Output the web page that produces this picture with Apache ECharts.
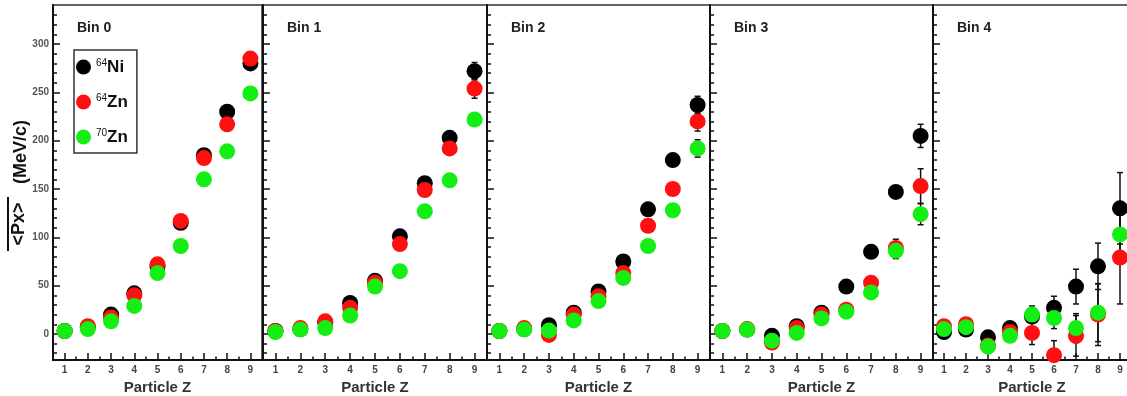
<!DOCTYPE html>
<html>
<head>
<meta charset="utf-8">
<script src="https://cdn.jsdelivr.net/npm/echarts@6/dist/echarts.min.js"></script>
<style>
  html, body { margin: 0; padding: 0; background: #fff; }
  #main { width: 1127px; height: 396px; }
</style>
</head>
<body>
<div id="main"></div>
<script>
// particle charge Z on the x axis
const zValues = [1, 2, 3, 4, 5, 6, 7, 8, 9];
const binLabels = ['Bin 0', 'Bin 1', 'Bin 2', 'Bin 3', 'Bin 4'];
const speciesNames = ['64Ni', '64Zn', '70Zn'];

// mean Px per bin (MeV/c), one row per bin
const niPx = [
  [3, 7, 20, 42, 70, 115, 185, 230, 280],
  [3, 5, 12, 32, 55, 101, 156, 203, 272],
  [3, 5, 9, 22, 44, 75, 129, 180, 237],
  [3, 4.5, -2, 8, 22, 49, 85, 147, 205],
  [2, 4.5, -3.5, 6, 18, 27, 49, 70, 130]
];
const zn64Px = [
  [3, 8, 17, 40, 72, 117, 182, 217, 285],
  [3, 6, 13, 27, 53, 93, 149, 192, 254],
  [3, 6, -1, 20, 39, 63, 112, 150, 220],
  [3, 5, -9, 6, 20, 25, 53, 89, 153],
  [8, 10, -12, 2, 1, -22, -2, 20, 79]
];
const zn70Px = [
  [3, 5, 13, 29, 63, 91, 160, 189, 249],
  [2, 4.5, 6, 19, 49, 65, 127, 159, 222],
  [3, 4.5, 3.5, 14, 34, 58, 91, 128, 192],
  [3, 4.5, -7, 1, 16, 23, 43, 86, 124],
  [5, 7, -13, -2, 20, 16.5, 6, 22, 103]
];

// errors
const niErr = [
  [1, 1, 1, 2, 2, 3, 3, 3, 4],
  [1, 1, 1, 2, 2, 3, 3, 4, 9],
  [1, 1, 1, 2, 2, 3, 3, 4, 9],
  [1, 1, 2, 2, 3, 3, 4, 5, 12],
  [2, 2, 3, 4, 6, 12, 18, 24, 37]
];
const zn64Err = [
  [1, 1, 1, 2, 2, 3, 3, 3, 4],
  [1, 1, 1, 2, 2, 3, 3, 4, 10],
  [1, 1, 1, 2, 2, 3, 3, 4, 10],
  [1, 1, 2, 2, 3, 3, 4, 9, 18],
  [3, 3, 4, 5, 12, 15, 21, 32, 48]
];
const zn70Err = [
  [1, 1, 1, 2, 2, 3, 3, 3, 4],
  [1, 1, 1, 2, 2, 3, 3, 4, 6],
  [1, 1, 1, 2, 2, 3, 3, 4, 9],
  [1, 1, 2, 2, 3, 3, 4, 8, 11],
  [2, 2, 4, 5, 9, 11, 15, 30, 20]
];

// tick values
const yMajorTicks = [0, 50, 100, 150, 200, 250, 300];
const yMinorTicks = [-20, -10, 10, 20, 30, 40, 60, 70, 80, 90, 110, 120, 130, 140, 160, 170, 180, 190,
  210, 220, 230, 240, 260, 270, 280, 290, 310, 320, 330];
const xMajorTicks = [1, 2, 3, 4, 5, 6, 7, 8, 9];
const xMinorTicks = [1.5, 2.5, 3.5, 4.5, 5.5, 6.5, 7.5, 8.5];

const pxData = [niPx, zn64Px, zn70Px];
const errData = [niErr, zn64Err, zn70Err];
const colors = ['#000000', '#ff1010', '#14ee14'];

// layout of the five panels
const panelLeft = [53, 263, 487, 710, 933];
const panelWidth = [209, 224, 223, 223, 198];
const FONT = 'Liberation Sans, Arial, sans-serif';

let chartDom = document.getElementById('main');
let myChart = echarts.init(chartDom);

const grids = [], xAxes = [], yAxes = [], series = [], titles = [];
const lineStyle = { color: '#111', width: 2 };

function renderErr(params, api) {
  const x = api.value(0), y = api.value(1), e = api.value(2);
  const top = api.coord([x, y + e]);
  const bot = api.coord([x, y - e]);
  const w = 3;
  const st = { stroke: '#111', lineWidth: 1.5 };
  return {
    type: 'group',
    children: [
      { type: 'line', shape: { x1: top[0], y1: top[1], x2: bot[0], y2: bot[1] }, style: st },
      { type: 'line', shape: { x1: top[0] - w, y1: top[1], x2: top[0] + w, y2: top[1] }, style: st },
      { type: 'line', shape: { x1: bot[0] - w, y1: bot[1], x2: bot[0] + w, y2: bot[1] }, style: st }
    ]
  };
}

binLabels.forEach((bin, i) => {
  grids.push({
    left: panelLeft[i], top: 5, width: panelWidth[i], height: 355,
    show: true, borderColor: '#333', borderWidth: 1.5, backgroundColor: 'transparent',
    outerBoundsMode: 'none', containLabel: false
  });

  // major x axis
  xAxes.push({
    type: 'value', gridIndex: i, min: 0.5, max: 9.5, position: 'bottom',
    axisLine: { show: true, onZero: false, lineStyle: lineStyle },
    axisTick: { show: true, inside: true, length: 7, customValues: xMajorTicks, lineStyle: { color: '#111', width: 1.5 } },
    axisLabel: { show: true, customValues: xMajorTicks, color: '#444', fontWeight: 'bold', fontSize: 10, margin: 5, fontFamily: FONT },
    splitLine: { show: false },
    name: 'Particle Z', nameLocation: 'middle', nameGap: 18,
    nameTextStyle: { fontSize: 15, fontWeight: 'bold', color: '#333', fontFamily: FONT }
  });
  // minor x ticks
  xAxes.push({
    type: 'value', gridIndex: i, min: 0.5, max: 9.5, position: 'bottom',
    axisLine: { show: false, onZero: false },
    axisTick: { show: true, inside: true, length: 3.5, customValues: xMinorTicks, lineStyle: { color: '#111', width: 1.5 } },
    axisLabel: { show: false },
    splitLine: { show: false }
  });

  // major y axis
  yAxes.push({
    type: 'value', gridIndex: i, min: -27, max: 340.5, position: 'left',
    axisLine: { show: true, onZero: false, lineStyle: lineStyle },
    axisTick: { show: true, inside: true, length: 7, customValues: yMajorTicks, lineStyle: { color: '#111', width: 1.5 } },
    axisLabel: { show: i === 0, customValues: yMajorTicks, color: '#555', fontWeight: 'bold', fontSize: 10, margin: 4, fontFamily: FONT },
    splitLine: { show: false }
  });
  // minor y ticks
  yAxes.push({
    type: 'value', gridIndex: i, min: -27, max: 340.5, position: 'left', offset: 0,
    axisLine: { show: false, onZero: false },
    axisTick: { show: true, inside: true, length: 4, customValues: yMinorTicks, lineStyle: { color: '#111', width: 1.5 } },
    axisLabel: { show: false },
    splitLine: { show: false }
  });

  // error bars under the markers
  const errRows = [];
  speciesNames.forEach((name, s) => {
    zValues.forEach((z, k) => errRows.push([z, pxData[s][i][k], errData[s][i][k]]));
  });
  series.push({
    type: 'custom', xAxisIndex: i * 2, yAxisIndex: i * 2, renderItem: renderErr,
    encode: { x: 0, y: 1 }, data: errRows, z: 2, clip: true, silent: true
  });

  speciesNames.forEach((name, s) => {
    series.push({
      name: name, type: 'scatter', xAxisIndex: i * 2, yAxisIndex: i * 2,
      symbol: 'circle', symbolSize: 16,
      itemStyle: { color: colors[s], opacity: 1 },
      z: 3 + s,
      data: zValues.map((z, k) => [z, pxData[s][i][k]])
    });
  });

  titles.push({
    text: bin, left: panelLeft[i] + 24, top: 21, padding: 0,
    textStyle: { fontSize: 14, fontWeight: 'bold', color: '#222', fontFamily: FONT }
  });
});

let option = {
  animation: false,
  textStyle: { fontFamily: FONT },
  title: titles,
  legend: {
    data: speciesNames,
    orient: 'vertical', left: 74, top: 50,
    itemWidth: 15, itemHeight: 15, itemGap: 17, icon: 'circle',
    padding: [8, 9, 7, 2],
    borderColor: '#333', borderWidth: 1.5, backgroundColor: '#fff',
    formatter: name => name.replace(/^(\d+)(.*)$/, '{s|$1}{m|$2}'),
    textStyle: {
      rich: {
        s: { fontSize: 10, color: '#111', verticalAlign: 'top', lineHeight: 12, fontFamily: FONT },
        m: { fontSize: 17, fontWeight: 'bold', color: '#111', lineHeight: 18, verticalAlign: 'bottom', fontFamily: FONT }
      }
    }
  },
  grid: grids,
  xAxis: xAxes,
  yAxis: yAxes,
  series: series,
  graphic: [
    {
      type: 'text', x: 21, y: 152, rotation: Math.PI / 2,
      style: { text: '(MeV/c)', fill: '#111', font: 'bold 18px ' + FONT, align: 'center', verticalAlign: 'middle', textAlign: 'center', textVerticalAlign: 'middle' }
    },
    {
      type: 'text', x: 19, y: 224, rotation: Math.PI / 2,
      style: { text: '<Px>', fill: '#111', font: 'bold 18px ' + FONT, align: 'center', verticalAlign: 'middle', textAlign: 'center', textVerticalAlign: 'middle' }
    },
    {
      type: 'line', shape: { x1: 8, y1: 197, x2: 8, y2: 251 },
      style: { stroke: '#111', lineWidth: 2 }
    }
  ]
};

myChart.setOption(option);
</script>
</body>
</html>
